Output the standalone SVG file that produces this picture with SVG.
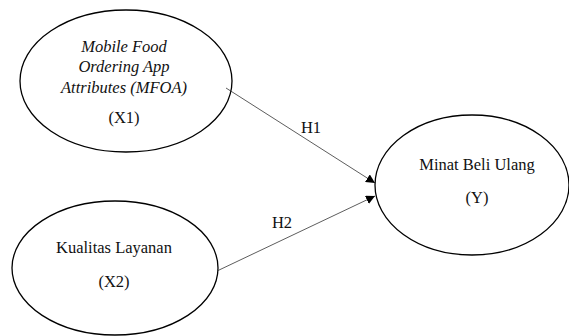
<svg xmlns="http://www.w3.org/2000/svg" width="569" height="336" viewBox="0 0 569 336">
<style>
.node{fill:#fff;stroke:#000;stroke-width:1.3}
.t{font-family:"Liberation Serif",serif;font-size:16.5px;fill:#111;text-anchor:middle}
.i{font-style:italic}
.edge{stroke:#333;stroke-width:0.8;fill:none}
</style>
<defs>
<marker id="arr" viewBox="0 0 10 10" refX="10" refY="5" markerWidth="9" markerHeight="9" markerUnits="userSpaceOnUse" orient="auto">
<path d="M0,0 L10,5 L0,10 z" fill="#000"/>
</marker>
</defs>
<rect width="569" height="336" fill="#fff"/>
<g id="x1">
<ellipse class="node" cx="126" cy="81" rx="106" ry="71"/>
<text class="t i" x="124" y="52">Mobile Food</text>
<text class="t i" x="124" y="72">Ordering App</text>
<text class="t i" x="124" y="93">Attributes (MFOA)</text>
<text class="t" x="124" y="123">(X1)</text>
</g>
<g id="x2">
<ellipse class="node" cx="115" cy="268" rx="103" ry="67"/>
<text class="t" x="114" y="253">Kualitas Layanan</text>
<text class="t" x="114" y="287">(X2)</text>
</g>
<g id="y">
<ellipse class="node" cx="472" cy="185" rx="97" ry="70"/>
<text class="t" x="477" y="170">Minat Beli Ulang</text>
<text class="t" x="477" y="203">(Y)</text>
</g>
<g id="connectors">
<line class="edge" x1="226" y1="88" x2="375" y2="183" marker-end="url(#arr)"/>
<line class="edge" x1="217" y1="271" x2="375" y2="196" marker-end="url(#arr)"/>
<text class="t" x="311" y="133">H1</text>
<text class="t" x="282" y="228">H2</text>
</g>
</svg>
